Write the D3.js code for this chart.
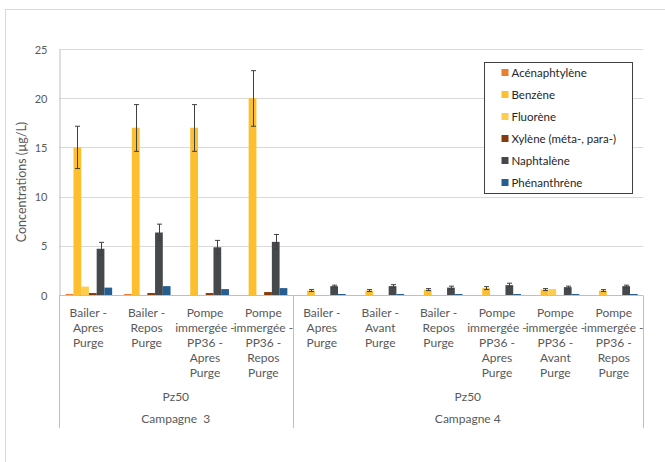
<!DOCTYPE html>
<html>
<head>
<meta charset="utf-8">
<script src="https://cdn.jsdelivr.net/npm/d3@7"></script>
<style>
  body { margin: 0; background: #fff; }
  text { font-family: Lato, "Open Sans", sans-serif; fill: #595959; }
</style>
</head>
<body>
<div id="chart"></div>
<script>
// Categories (wrapped as in the reference)
const categories = [
    "Bailer -\nApres\nPurge",
    "Bailer -\nRepos\nPurge",
    "Pompe\nimmergée -\nPP36 -\nApres\nPurge",
    "Pompe\nimmergée -\nPP36 -\nRepos\nPurge",
    "Bailer -\nApres\nPurge",
    "Bailer -\nAvant\nPurge",
    "Bailer -\nRepos\nPurge",
    "Pompe\nimmergée -\nPP36 -\nApres\nPurge",
    "Pompe\nimmergée -\nPP36 -\nAvant\nPurge",
    "Pompe\nimmergée -\nPP36 -\nRepos\nPurge"
];
const campaigns = ["Campagne  3", "Campagne 4"];
const campaignSizes = [4, 6];
const site = "Pz50";

const seriesNames = ["Acénaphtylène", "Benzène", "Fluorène", "Xylène (méta-, para-)", "Naphtalène", "Phénanthrène"];
const seriesColors = ["#ED7D31", "#FDBF2D", "#FFCC4D", "#843C0C", "#45494C", "#255E91"];

const acenaphtylene = [0.1, 0.1, 0, 0, 0, 0, 0, 0, 0, 0];
const benzene       = [15.0, 17.0, 17.0, 20.0, 0.45, 0.45, 0.55, 0.7, 0.55, 0.45];
const fluorene      = [0.85, 0, 0, 0, 0, 0, 0, 0, 0.6, 0];
const xylene        = [0.2, 0.2, 0.2, 0.3, 0, 0, 0, 0, 0, 0];
const naphtalene    = [4.7, 6.35, 4.85, 5.4, 0.9, 0.9, 0.75, 1.0, 0.8, 0.9];
const phenanthrene  = [0.75, 0.9, 0.6, 0.7, 0.1, 0.1, 0.1, 0.1, 0.1, 0.1];

// error bars (low / high)
const benzeneLow  = [12.85, 14.6, 14.6, 17.15, 0.35, 0.35, 0.45, 0.55, 0.45, 0.35];
const benzeneHigh = [17.15, 19.35, 19.35, 22.8, 0.55, 0.55, 0.65, 0.85, 0.65, 0.55];
const naphLow     = [4.05, 5.5, 4.15, 4.65, 0.75, 0.75, 0.6, 0.85, 0.65, 0.75];
const naphHigh    = [5.35, 7.2, 5.55, 6.15, 1.0, 1.05, 0.9, 1.2, 0.9, 1.0];

const yTicks = [0, 5, 10, 15, 20, 25];

const series = [acenaphtylene, benzene, fluorene, xylene, naphtalene, phenanthrene];
const errors = [null, [benzeneLow, benzeneHigh], null, null, [naphLow, naphHigh], null];

const width = 665, height = 462;
const margin = { left: 59, right: 22, top: 49, bottom: 166 };

const svg = d3.select("#chart").append("svg")
    .attr("width", width)
    .attr("height", height);

// chart frame
svg.append("rect")
    .attr("x", 5.5).attr("y", 9.5)
    .attr("width", 700).attr("height", 500)
    .attr("fill", "none")
    .attr("stroke", "#D9D9D9");

const x = d3.scaleBand()
    .domain(d3.range(categories.length))
    .range([margin.left, width - margin.right])
    .padding(0);

const bw = x.bandwidth();
const xInner = d3.scaleBand()
    .domain(d3.range(series.length))
    .range([bw * 0.115, bw * 0.91]);

const y = d3.scaleLinear()
    .domain([0, 25])
    .range([height - margin.bottom - 1, margin.top]);

// gridlines
svg.append("g")
    .selectAll("line")
    .data(yTicks.filter(d => d > 0))
    .enter().append("line")
    .attr("x1", margin.left).attr("x2", width - margin.right)
    .attr("y1", d => Math.round(y(d)) + 0.5).attr("y2", d => Math.round(y(d)) + 0.5)
    .attr("stroke", "#D9D9D9");

// y axis
const yAxis = svg.append("g")
    .attr("transform", `translate(${margin.left + 0.5},0.5)`)
    .call(d3.axisLeft(y).tickValues(yTicks).tickSize(0).tickPadding(12));
yAxis.select(".domain").attr("stroke", "#BFBFBF");
yAxis.selectAll("text").style("font-size", "11px").style("fill", "#595959")
    .style("font-family", "Lato, sans-serif");

svg.append("text")
    .attr("transform", `translate(26,${(y(0) + y(25)) / 2 + 10}) rotate(-90)`)
    .attr("text-anchor", "middle")
    .style("font-size", "12.5px")
    .text("Concentrations (µg/L)");

// bars
const barGroups = svg.append("g")
    .selectAll("g")
    .data(series)
    .enter().append("g")
    .attr("fill", (d, i) => seriesColors[i]);

barGroups.each(function(values, si) {
    d3.select(this).selectAll("rect")
        .data(values.map((v, ci) => ({ v, ci })).filter(d => d.v > 0))
        .enter().append("rect")
        .attr("x", d => x(d.ci) + xInner(si))
        .attr("width", xInner.bandwidth())
        .attr("y", d => y(d.v))
        .attr("height", d => y(0) - y(d.v));
});

// error bars
const errG = svg.append("g").attr("stroke", "#404040").attr("stroke-width", 1);
errors.forEach((e, si) => {
    if (!e) return;
    const [lo, hi] = e;
    lo.forEach((l, ci) => {
        const cx = Math.round(x(ci) + xInner(si) + xInner.bandwidth() / 2) + 0.5;
        const y1 = y(l), y2 = y(hi[ci]);
        errG.append("line").attr("x1", cx).attr("x2", cx).attr("y1", y1).attr("y2", y2);
        errG.append("line").attr("x1", cx - 2.5).attr("x2", cx + 2.5).attr("y1", y1).attr("y2", y1);
        errG.append("line").attr("x1", cx - 2.5).attr("x2", cx + 2.5).attr("y1", y2).attr("y2", y2);
    });
});

// baseline
const y0 = Math.round(y(0)) + 0.5;
svg.append("line")
    .attr("x1", margin.left).attr("x2", width - margin.right)
    .attr("y1", y0).attr("y2", y0)
    .attr("stroke", "#BFBFBF");

// category labels
const catLabels = svg.append("g")
    .selectAll("text")
    .data(categories)
    .enter().append("text")
    .attr("text-anchor", "middle")
    .style("font-size", "12px")
    .attr("transform", (d, i) => `translate(${x(i) + bw / 2},317)`);
catLabels.selectAll("tspan")
    .data(d => d.split("\n"))
    .enter().append("tspan")
    .attr("x", 0)
    .attr("dy", (d, i) => i === 0 ? 0 : 15)
    .text(d => d);

// group separators and labels
let start = 0;
const bounds = [0];
campaignSizes.forEach(n => { start += n; bounds.push(start); });
svg.append("g")
    .selectAll("line")
    .data(bounds)
    .enter().append("line")
    .attr("x1", d => Math.round(x.range()[0] + d * bw) + 0.5)
    .attr("x2", d => Math.round(x.range()[0] + d * bw) + 0.5)
    .attr("y1", y0).attr("y2", 428)
    .attr("stroke", "#BFBFBF");

campaigns.forEach((c, i) => {
    const cx = x.range()[0] + (bounds[i] + bounds[i + 1]) / 2 * bw;
    svg.append("text").attr("x", cx).attr("y", 401)
        .attr("text-anchor", "middle").style("font-size", "12px").text(site);
    svg.append("text").attr("x", cx).attr("y", 423)
        .attr("text-anchor", "middle").style("font-size", "12px")
        .attr("xml:space", "preserve").style("white-space", "pre").text(c);
});

// legend
const legend = svg.append("g").attr("transform", "translate(484.5,62.5)");
legend.append("rect")
    .attr("width", 148).attr("height", 131)
    .attr("fill", "#fff").attr("stroke", "#404040");
const items = legend.selectAll("g.item")
    .data(seriesNames)
    .enter().append("g")
    .attr("transform", (d, i) => `translate(17,${10 + i * 22})`);
items.append("rect")
    .attr("width", 7).attr("height", 7).attr("y", -3.5)
    .attr("fill", (d, i) => seriesColors[i]);
items.append("text")
    .attr("x", 10).attr("dy", "0.35em")
    .style("font-size", "11.5px")
    .style("fill", "#262626")
    .text(d => d);
</script>
</body>
</html>
